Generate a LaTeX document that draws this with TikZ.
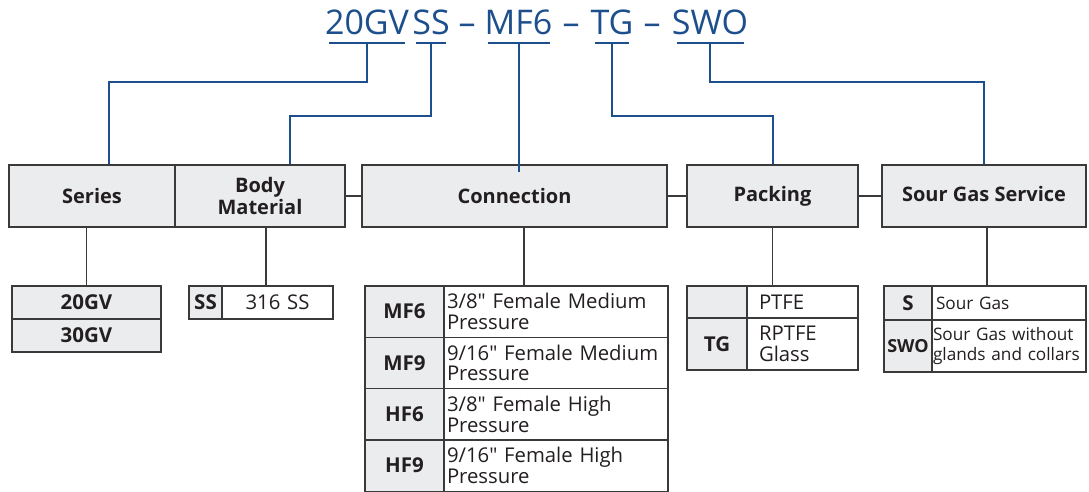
\documentclass[tikz,border=0pt]{standalone}
\usepackage{fontspec}
\setmainfont{Open Sans}
\definecolor{valveBlue}{HTML}{1C4F8C}
\definecolor{boxGray}{HTML}{EBECEE}
\definecolor{lineDark}{HTML}{3A3A3A}
\definecolor{textDark}{HTML}{231F20}
\begin{document}
\begin{tikzpicture}[x=1pt, y=-1pt,
rectHead/.style={rectangle, draw=lineDark, line width=1.3pt, fill=boxGray, minimum height=62, inner sep=0pt, align=center, font=\fontsize{20}{22}\selectfont\bfseries, text=textDark},
rectCode/.style={rectangle, draw=lineDark, line width=1.3pt, fill=boxGray, inner sep=0pt, align=center, font=\fontsize{20.5}{21}\selectfont\bfseries, text=textDark},
rectDesc/.style={rectangle, draw=lineDark, line width=1.3pt, fill=white, inner ysep=0pt, align=left, font=\fontsize{20.3}{20.5}\selectfont, text=textDark},
rectSmall/.style={font=\fontsize{17.2}{19.5}\selectfont},
rectTitle/.style={anchor=base, inner sep=0pt, text=valveBlue, font=\fontsize{34}{36}\selectfont},
lineBlue/.style={draw=valveBlue, line width=2pt},
lineGray/.style={draw=lineDark, line width=1.3pt}]

\useasboundingbox (0,0) rectangle (1089,492);

% order code
\node[rectTitle] (t20gv) at (367, 35) {20GV};
\node[rectTitle] (tss) at (431, 35) {SS};
\node[rectTitle] (dash1) at (467, 35) {–};
\node[rectTitle] (tmf6) at (518.5, 35) {MF6};
\node[rectTitle] (dash2) at (571, 35) {–};
\node[rectTitle] (ttg) at (612, 35) {TG};
\node[rectTitle] (dash3) at (652, 35) {–};
\node[rectTitle] (tswo) at (710, 35) {SWO};

\foreach \c/\w in {t20gv/76, tss/30, tmf6/62, ttg/34, tswo/67}
  \draw[lineBlue] ([xshift=-\w/2, yshift=-8pt]\c.base) -- ++(\w,0);

% headings
\node[rectHead, minimum width=166] (series) at (92, 196) {Series};
\node[rectHead, minimum width=170] (body) at (260, 196) {Body\\Material};
\node[rectHead, minimum width=305] (conn) at (514.5, 196) {Connection};
\node[rectHead, minimum width=171] (pack) at (772.5, 196) {Packing};
\node[rectHead, minimum width=204] (sour) at (984, 196) {\raisebox{4pt}{Sour Gas Service}};

\draw[lineBlue] ([yshift=-8pt]t20gv.base) -- ++(0,39) -| ([xshift=17pt]series.north);
\draw[lineBlue] ([yshift=-8pt]tss.base) -- ++(0,73) -| ([xshift=30pt]body.north);
\draw[lineBlue] ([yshift=-8pt]tmf6.base) -- ([yshift=-8pt]tmf6.base |- conn.north);
\draw[lineBlue] ([yshift=-8pt]ttg.base) -- ++(0,73) -| (pack.north);
\draw[lineBlue] ([yshift=-8pt]tswo.base) -- ++(0,39) -| (sour.north);

\draw[lineGray] (body.east) -- (conn.west);
\draw[lineGray] (conn.east) -- (pack.west);
\draw[lineGray] (pack.east) -- (sour.west);

% series table
\node[rectCode, minimum width=149, minimum height=33] (c20gv) at (86.5, 302.5) {20GV};
\node[rectCode, minimum width=149, minimum height=33] (c30gv) at (86.5, 335.5) {30GV};

% body material table
\node[rectCode, minimum width=33, minimum height=33] (css) at (205.5, 302.5) {SS};
\node[rectDesc, text width=103, inner xsep=4pt, minimum height=33, align=center] (dss) at (277.5, 302.5) {316 SS};

% connection table
\node[rectCode, minimum width=79, minimum height=51.3] (cmf6) at (404.5, 311.6) {MF6};
\node[rectDesc, text width=218, inner xsep=3pt, minimum height=51.3] (dmf6) at (556, 311.6) {3/8\textquotedbl{} Female Medium\\Pressure};
\node[rectCode, minimum width=79, minimum height=51.3] (cmf9) at (404.5, 362.9) {MF9};
\node[rectDesc, text width=218, inner xsep=3pt, minimum height=51.3] (dmf9) at (556, 362.9) {9/16\textquotedbl{} Female Medium\\Pressure};
\node[rectCode, minimum width=79, minimum height=51.3] (chf6) at (404.5, 414.2) {HF6};
\node[rectDesc, text width=218, inner xsep=3pt, minimum height=51.3] (dhf6) at (556, 414.2) {3/8\textquotedbl{} Female High\\Pressure};
\node[rectCode, minimum width=79, minimum height=51.3] (chf9) at (404.5, 465.5) {HF9};
\node[rectDesc, text width=218, inner xsep=3pt, minimum height=51.3] (dhf9) at (556, 465.5) {9/16\textquotedbl{} Female High\\Pressure};

% packing table
\node[rectCode, minimum width=60, minimum height=32] (cptfe) at (717, 302) {};
\node[rectDesc, text width=87, inner xsep=12pt, minimum height=32] (dptfe) at (802.5, 302) {PTFE};
\node[rectCode, minimum width=60, minimum height=52] (ctg) at (717, 344) {TG};
\node[rectDesc, text width=87, inner xsep=12pt, minimum height=52] (dtg) at (802.5, 344) {RPTFE\\Glass};

% sour gas table
\node[rectCode, minimum width=48, minimum height=34] (cs) at (908, 303) {S};
\node[rectDesc, rectSmall, text width=146, inner xsep=4pt, minimum height=34] (ds) at (1009, 303) {Sour Gas};
\node[rectCode, minimum width=48, minimum height=52, font=\fontsize{18}{20}\selectfont\bfseries] (cswo) at (908, 346) {SWO};
\node[rectDesc, rectSmall, text width=152, inner xsep=1pt, minimum height=52] (dswo) at (1009, 346) {Sour Gas without\\glands and collars};

% stems
\draw[lineGray] (c20gv.north) -- (c20gv.north |- series.south);
\draw[lineGray] ([xshift=6pt]body.south) -- ([xshift=6pt]body.south |- dss.north);
\draw[lineGray] ([xshift=9.5pt]conn.south) -- ([xshift=9.5pt]conn.south |- dmf6.north);
\draw[lineGray] (pack.south) -- (pack.south |- dptfe.north);
\draw[lineGray] ([xshift=3pt]sour.south) -- ([xshift=3pt]sour.south |- ds.north);

\end{tikzpicture}
\end{document}
